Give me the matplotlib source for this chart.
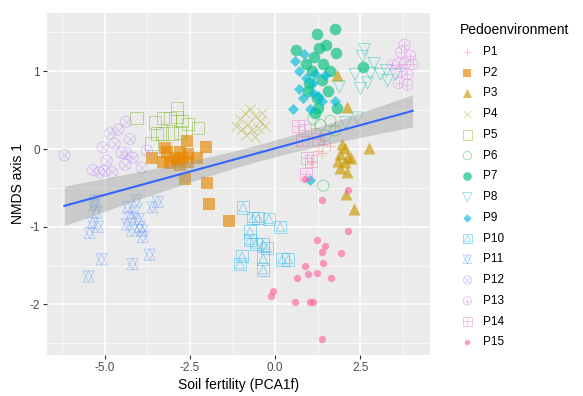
import numpy as np
import matplotlib.pyplot as plt
from matplotlib.legend_handler import HandlerTuple

plt.rcParams['font.family'] = ['Liberation Sans', 'DejaVu Sans']

# groups and their (x, y) points
groups = ['P1', 'P2', 'P3', 'P4', 'P5', 'P6', 'P7', 'P8', 'P9', 'P10',
          'P11', 'P12', 'P13', 'P14', 'P15']
colors = ['#F8766D', '#E58700', '#C99800', '#A3A500', '#6BB100', '#00BA38',
          '#00BF7D', '#00C0AF', '#00BCD8', '#00B0F6', '#619CFF', '#B983FF',
          '#E76BF3', '#FD61D1', '#FF67A4']

p1_x = [1.26, 1.41, 1.32, 1.62, 1.09, 1.76, 1.18, 1.38]
p1_y = [-0.02, 0.07, 0.15, 0.04, -0.17, 0.30, 0.27, -0.05]
p2_x = [-2.59, -2.03, -3.24, -3.18, -2.79, -2.56, -3.62, -3.29, -2.88, -2.71,
        -2.56, -2.29, -3.09, -2.79, -2.94, -2.65, -2.00, -1.94, -1.35]
p2_y = [0.10, 0.02, 0.01, -0.04, -0.04, -0.06, -0.12, -0.17, -0.15, -0.11,
        -0.17, -0.12, -0.18, -0.21, -0.11, -0.38, -0.44, -0.71, -0.92]
p3_x = [1.82, 2.12, 1.97, 2.06, 1.91, 2.15, 1.85, 2.06, 2.21, 1.91, 2.12,
        2.74, 2.09, 2.32]
p3_y = [0.95, 0.54, 0.07, 0.01, -0.06, -0.10, -0.15, -0.17, -0.12, -0.25,
        -0.29, 0.01, -0.58, -0.77]
p4_x = [-1.03, -0.88, -0.74, -0.59, -0.44, -0.79, -0.97, -0.68, -0.50, -0.29,
        -0.85, -0.59, -1.15, -0.38]
p4_y = [0.39, 0.46, 0.52, 0.43, 0.36, 0.32, 0.26, 0.24, 0.27, 0.30, 0.18,
        0.15, 0.30, 0.46]
p5_x = [-4.06, -3.53, -3.29, -2.88, -2.88, -2.74, -3.32, -3.03, -2.79, -2.56,
        -2.26, -3.47, -3.62, -3.09]
p5_y = [0.40, 0.34, 0.40, 0.52, 0.41, 0.36, 0.20, 0.20, 0.21, 0.32, 0.27,
        0.20, 0.07, 0.39]
p6_x = [1.41, 1.32, 1.47, 1.12, 1.62, 1.76]
p6_y = [-0.47, 0.31, 0.17, 0.39, 0.36, 0.24]
p7_x = [1.24, 1.76, 1.50, 1.79, 0.62, 1.15, 2.59, 1.09, 1.38, 0.97, 1.56,
        1.24, 1.26, 1.82, 1.18, 1.40, 1.00, 1.30, 1.60, 0.90]
p7_y = [1.48, 1.55, 1.34, 1.24, 1.28, 1.18, 1.06, 1.00, 0.89, 0.75, 0.75,
        0.66, 0.53, 0.53, 0.46, 1.10, 0.85, 1.30, 1.00, 1.10]
p8_x = [2.62, 2.56, 2.35, 2.79, 3.09, 3.26, 2.50, 2.71, 1.88, 3.53, 2.41, 2.06,
        2.90, 3.30]
p8_y = [1.28, 1.19, 0.96, 0.97, 0.96, 1.01, 0.78, 0.85, 0.80, 0.96, 0.40, 0.34,
        1.10, 0.88]
p9_x = [0.85, 0.59, 0.91, 1.18, 1.47, 0.71, 0.82, 1.12, 0.53, 1.03, 1.38,
        1.76, 1.26, 1.03, 0.70, 1.10]
p9_y = [1.22, 1.13, 0.92, 0.97, 0.95, 0.77, 0.66, 0.72, 0.52, 0.52, 0.62,
        0.62, 0.68, -0.40, 1.00, 0.85]
p10_x = [-0.94, -0.65, -0.50, -0.18, 0.15, -0.74, -0.74, -0.56, -0.35, -0.24,
         -0.97, -1.03, -0.35, -0.35, 0.21, 0.38]
p10_y = [-0.75, -0.89, -0.89, -0.90, -1.00, -1.06, -1.17, -1.22, -1.23, -1.27,
         -1.38, -1.48, -1.41, -1.55, -1.42, -1.42]
p11_x = [-5.24, -5.44, -4.32, -4.12, -4.35, -3.97, -3.88, -3.68, -5.09, -4.18,
         -5.47, -3.44, -5.29, -4.06, -5.35, -5.20, -4.25, -4.00, -3.90, -4.20,
         -3.60, -5.30]
p11_y = [-0.82, -1.08, -0.75, -0.82, -0.97, -1.00, -1.13, -1.36, -1.42, -1.48,
         -1.64, -0.68, -0.66, -0.66, -0.95, -1.00, -0.88, -0.90, -1.05, -1.05,
         -0.75, -0.72]
p12_x = [-6.18, -4.38, -4.85, -4.71, -4.26, -4.35, -5.06, -4.94, -5.35, -5.15,
         -4.79, -3.91, -4.18, -3.76, -4.60, -4.50, -5.00, -4.40]
p12_y = [-0.08, 0.35, 0.20, 0.07, 0.13, -0.06, 0.02, -0.15, -0.27, -0.30,
         -0.30, -0.24, -0.11, -0.02, 0.25, -0.05, -0.28, -0.20]
p13_x = [3.79, 3.62, 3.82, 4.03, 3.68, 3.88, 3.62, 3.88, 3.44, 3.95, 3.70]
p13_y = [1.34, 1.10, 1.10, 1.09, 1.00, 0.96, 0.85, 0.83, 1.08, 1.20, 1.25]
p14_x = [0.68, 0.88, 0.79, 0.94, 1.06, 1.26, 0.91]
p14_y = [0.30, 0.24, 0.11, -0.11, -0.15, 0.13, -0.32]
p15_x = [0.88, 1.38, 2.15, 2.15, 1.24, 1.47, 1.38, 1.94, 0.88, 1.41, 0.97,
         1.24, 1.65, 0.65, -0.06, -0.12, 0.59, 1.03, 1.12, 1.38]
p15_y = [-0.39, -0.66, -0.53, -1.06, -1.17, -1.25, -1.32, -1.34, -1.51, -1.47,
         -1.61, -1.60, -1.66, -1.66, -1.83, -1.89, -1.97, -1.97, -1.97, -2.45]

xs = [p1_x, p2_x, p3_x, p4_x, p5_x, p6_x, p7_x, p8_x, p9_x, p10_x, p11_x,
      p12_x, p13_x, p14_x, p15_x]
ys = [p1_y, p2_y, p3_y, p4_y, p5_y, p6_y, p7_y, p8_y, p9_y, p10_y, p11_y,
      p12_y, p13_y, p14_y, p15_y]

x_ticks = [-5.0, -2.5, 0.0, 2.5]
y_ticks = [-2, -1, 0, 1]

# marker recipe per group: list of (marker, size, filled)
styles = [
    [('+', 60, False)],
    [('s', 65, True)],
    [('^', 75, True)],
    [('x', 50, False)],
    [('s', 80, False)],
    [('o', 65, False)],
    [('o', 70, True)],
    [('v', 75, False)],
    [('D', 32, True)],
    [('s', 80, False), ('^', 40, False)],
    [('^', 65, False), ('v', 65, False)],
    [('o', 65, False), ('x', 30, False)],
    [('o', 65, False), ('+', 40, False)],
    [('s', 75, False), ('+', 50, False)],
    [('o', 28, True)],
]

fig = plt.figure(figsize=(5.83, 3.96), dpi=100)
ax = fig.add_axes([47 / 583, 1 - 355 / 396, 383 / 583, 342 / 396])
ax.set_facecolor('#EBEBEB')

handles = []
for g, c, x, y, st in zip(groups, colors, xs, ys, styles):
    parts = []
    for m, s, filled in st:
        if filled:
            h = ax.scatter(x, y, marker=m, s=s, color=c, alpha=0.65,
                           linewidths=0, zorder=3)
        elif m in ('+', 'x'):
            h = ax.scatter(x, y, marker=m, s=s, color=c, alpha=0.45,
                           linewidths=0.6, zorder=3)
        else:
            h = ax.scatter(x, y, marker=m, s=s, facecolors='none',
                           edgecolors=c, alpha=0.45, linewidths=0.6, zorder=3)
        parts.append(h)
    handles.append(tuple(parts))

# linear fit with 95% band
allx = np.concatenate([np.array(v) for v in xs])
ally = np.concatenate([np.array(v) for v in ys])
b, a = np.polyfit(allx, ally, 1)
n = len(allx)
resid = ally - (a + b * allx)
s_err = np.sqrt(np.sum(resid ** 2) / (n - 2))
xbar = allx.mean()
sxx = np.sum((allx - xbar) ** 2)
xf = np.linspace(allx.min(), allx.max(), 80)
yf = a + b * xf
se = s_err * np.sqrt(1 / n + (xf - xbar) ** 2 / sxx)
ax.fill_between(xf, yf - 1.972 * se, yf + 1.972 * se, color='#999999',
                alpha=0.4, linewidth=0, zorder=4)
ax.plot(xf, yf, color='#3366FF', linewidth=1.5, zorder=5)

xr = allx.max() - allx.min()
yr = ally.max() - ally.min()
ax.set_xlim(allx.min() - 0.05 * xr, allx.max() + 0.05 * xr)
ax.set_ylim(ally.min() - 0.05 * yr, ally.max() + 0.05 * yr)

ax.set_xticks(x_ticks)
ax.set_xticklabels(['%.1f' % v for v in x_ticks])
ax.set_yticks(y_ticks)
ax.set_yticklabels([str(v) for v in y_ticks])
ax.set_xticks([-6.25, -3.75, -1.25, 1.25, 3.75], minor=True)
ax.set_yticks([-2.5, -1.5, -0.5, 0.5, 1.5], minor=True)
ax.grid(which='major', color='white', linewidth=1.1)
ax.grid(which='minor', color='white', linewidth=0.5)
ax.set_axisbelow(True)
ax.tick_params(which='major', length=3, color='#333333', labelsize=8.5,
               labelcolor='#4D4D4D', pad=2)
ax.tick_params(which='minor', length=0)
for sp in ax.spines.values():
    sp.set_visible(False)

ax.set_xlabel('Soil fertility (PCA1f)', fontsize=10, labelpad=3)
ax.set_ylabel('NMDS axis 1', fontsize=10, labelpad=3)

leg = fig.legend(handles, groups, loc='upper left',
                 bbox_to_anchor=(452 / 583, 1 - 15 / 396),
                 frameon=False, title='Pedoenvironment', title_fontsize=10,
                 fontsize=8.5, labelspacing=0.74, handletextpad=0.7,
                 handlelength=1.2, borderpad=0.2, alignment='left',
                 scatterpoints=1, markerscale=0.75,
                 handler_map={tuple: HandlerTuple(ndivide=1)})

fig.savefig('out.png', dpi=100)
